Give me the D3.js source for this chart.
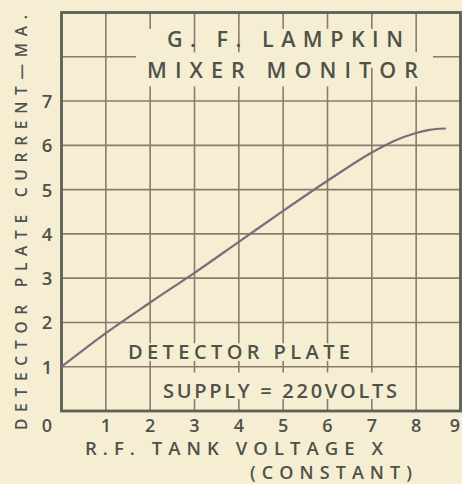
<!DOCTYPE html>
<html>
<head>
<meta charset="utf-8">
<script src="https://cdn.jsdelivr.net/npm/d3@7"></script>
<style>
  html, body { margin: 0; padding: 0; background: #f6eed3; }
  svg { display: block; }
  text { font-family: "Open Sans", "DejaVu Sans", sans-serif; font-weight: 600; fill: #4f5249; }
</style>
</head>
<body>
<svg id="chart"></svg>
<script>
// ======================
// DATA
// ======================
const rfVoltage = [0, 1, 2, 3, 4, 5, 6, 7, 7.5, 8, 8.3, 8.65];
const plateCurrent = [1.0, 1.76, 2.45, 3.12, 3.82, 4.52, 5.2, 5.84, 6.1, 6.28, 6.35, 6.38];
const xTicks = [1, 2, 3, 4, 5, 6, 7, 8, 9];
const yTicks = [1, 2, 3, 4, 5, 6, 7];
const titleLines = ["G. F. LAMPKIN", "MIXER MONITOR"];
const noteLines = ["DETECTOR PLATE", "SUPPLY = 220VOLTS"];
const xTitle = ["R.F. TANK VOLTAGE  X", "(CONSTANT)"];
const yTitle = "DETECTOR PLATE CURRENT\u2014MA.";

// ======================
// SETUP
// ======================
const width = 462;
const height = 484;
const svg = d3.select("#chart").attr("width", width).attr("height", height);

const bgColor = "#f6eed3";
const gridColor = "#8b7a6c";
const frameColor = "#5b5f56";
const curveColor = "#7d6c78";

const x = d3.scaleLinear().domain([0, 9]).range([61.5, 460.5]);
const y = d3.scaleLinear().domain([0, 9]).range([411, 12.5]);

svg.append("rect").attr("width", width).attr("height", height).attr("fill", bgColor);

// grid
const grid = svg.append("g").attr("stroke", gridColor).attr("stroke-width", 1.6);
d3.range(1, 9).forEach(v => {
    grid.append("line")
        .attr("x1", x(v)).attr("x2", x(v))
        .attr("y1", y(0)).attr("y2", y(9));
    grid.append("line")
        .attr("x1", x(0)).attr("x2", x(9))
        .attr("y1", y(v)).attr("y2", y(v));
});

// masks behind the lettering (grid is erased under the words)
const masks = svg.append("g").attr("fill", bgColor);
masks.append("rect")
    .attr("x", x(1.68)).attr("y", y(8.63))
    .attr("width", x(8.38) - x(1.68)).attr("height", y(7.33) - y(8.63));
masks.append("rect")
    .attr("x", 124).attr("y", y(1.53))
    .attr("width", 232).attr("height", y(1.13) - y(1.53));
masks.append("rect")
    .attr("x", 158).attr("y", y(0.87))
    .attr("width", 244).attr("height", y(0.27) - y(0.87));

// grid stubs that run through the title between words
const stubs = svg.append("g").attr("stroke", gridColor).attr("stroke-width", 1.6);
[[3, 8.63, 8.1], [4, 8.63, 8.1], [8, 8.63, 8.1], [7, 7.75, 7.33]].forEach(s => {
    stubs.append("line")
        .attr("x1", x(s[0])).attr("x2", x(s[0]))
        .attr("y1", y(s[1])).attr("y2", y(s[2]));
});

// frame
svg.append("rect")
    .attr("x", x(0)).attr("y", y(9))
    .attr("width", x(9) - x(0)).attr("height", y(0) - y(9))
    .attr("fill", "none")
    .attr("stroke", frameColor)
    .attr("stroke-width", 2.8);

// curve
const points = rfVoltage.map((v, i) => [v, plateCurrent[i]]);
const line = d3.line()
    .x(d => x(d[0]))
    .y(d => y(d[1]))
    .curve(d3.curveMonotoneX);
svg.append("path")
    .datum(points)
    .attr("d", line)
    .attr("fill", "none")
    .attr("stroke", curveColor)
    .attr("stroke-width", 2.2)
    .attr("stroke-linecap", "round");

// ======================
// TICK LABELS
// ======================
svg.append("g").selectAll("text")
    .data(xTicks)
    .join("text")
    .attr("x", d => Math.min(x(d), 455))
    .attr("y", 432)
    .attr("text-anchor", "middle")
    .attr("font-size", 18)
    .text(d => d);

svg.append("g").selectAll("text")
    .data(yTicks)
    .join("text")
    .attr("x", 47)
    .attr("y", d => y(d) + 7)
    .attr("text-anchor", "middle")
    .attr("font-size", 18.5)
    .text(d => d);

svg.append("text")
    .attr("x", 47).attr("y", 432)
    .attr("text-anchor", "middle")
    .attr("font-size", 18)
    .text("0");

// ======================
// TITLES
// ======================
function spacedText(str, x0, baseline, len, size) {
    svg.append("text")
        .attr("x", x0).attr("y", baseline)
        .attr("font-size", size)
        .attr("textLength", len)
        .attr("lengthAdjust", "spacing")
        .text(str);
}

spacedText(titleLines[0], 167, 47, 236, 21.5);
spacedText(titleLines[1], 147, 78, 271, 21.5);
spacedText(noteLines[0], 128, 359, 222, 20);
spacedText(noteLines[1], 163, 398, 234, 20);
spacedText(xTitle[0], 85, 455, 298, 18.5);
spacedText(xTitle[1], 250, 479, 162, 18);

svg.append("text")
    .attr("transform", "translate(27,430) rotate(-90)")
    .attr("font-size", 15.5)
    .attr("textLength", 415)
    .attr("lengthAdjust", "spacing")
    .text(yTitle);
</script>
</body>
</html>
